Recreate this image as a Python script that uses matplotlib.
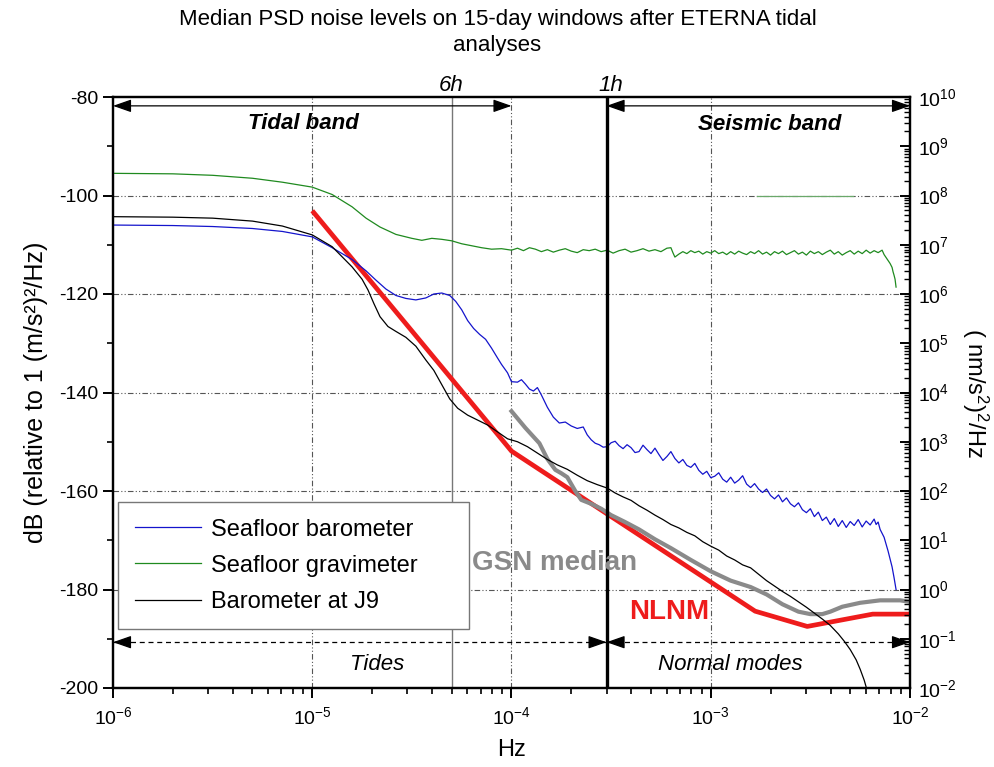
"""
Median PSD noise levels (seafloor barometer / gravimeter, J9 barometer)
compared with NLNM and GSN median.
"""

import numpy as np
import matplotlib
matplotlib.use("Agg")
import matplotlib.pyplot as plt
from matplotlib.ticker import LogLocator, MultipleLocator, FixedLocator, NullFormatter
import matplotlib.transforms as mtrans

plt.rcParams["font.family"] = ["Liberation Sans", "DejaVu Sans"]
plt.rcParams["mathtext.fontset"] = "custom"
plt.rcParams["mathtext.rm"] = "Liberation Sans"
plt.rcParams["mathtext.it"] = "Liberation Sans:italic"
plt.rcParams["mathtext.bf"] = "Liberation Sans:bold"
plt.rcParams["axes.unicode_minus"] = False

# ---- data (log10 frequency in Hz, level in dB) ----
baro_logf = [-6.0, -5.7, -5.5, -5.3, -5.15, -5.0, -4.9, -4.8, -4.73, -4.68, -4.63, -4.58,
             -4.53, -4.48, -4.43, -4.39, -4.35, -4.31, -4.28, -4.25, -4.22, -4.19, -4.16,
             -4.13, -4.10, -4.07, -4.05, -4.02, -4.00, -3.97, -3.95, -3.93, -3.91, -3.89,
             -3.87, -3.85, -3.82, -3.79, -3.76, -3.73, -3.70, -3.67, -3.64, -3.62, -3.60,
             -3.58, -3.56, -3.54, -3.52, -3.50, -3.48, -3.46, -3.44, -3.42, -3.40, -3.38,
             -3.36, -3.34, -3.32, -3.30, -3.28, -3.26, -3.24, -3.22, -3.20, -3.18, -3.16,
             -3.14, -3.12, -3.10, -3.08, -3.06, -3.04, -3.02, -3.00, -2.98, -2.96, -2.94,
             -2.92, -2.90, -2.88, -2.86, -2.84, -2.82, -2.80, -2.78, -2.76, -2.74, -2.72,
             -2.70, -2.68, -2.66, -2.64, -2.62, -2.60, -2.58, -2.56, -2.54, -2.52, -2.50,
             -2.48, -2.46, -2.44, -2.42, -2.40, -2.38, -2.36, -2.34, -2.32, -2.30, -2.28,
             -2.26, -2.24, -2.22, -2.20, -2.18, -2.17, -2.16, -2.15, -2.14, -2.13, -2.12,
             -2.11, -2.10, -2.09, -2.08, -2.07]
baro_db = [-106.0, -106.1, -106.3, -106.7, -107.3, -108.4, -110.6, -113.0, -115.3, -117.2,
           -119.0, -120.3, -120.9, -121.2, -120.8, -120.0, -119.8, -120.3, -121.5, -123.2,
           -125.4, -127.0, -128.2, -129.2, -131.0, -133.0, -134.3, -136.0, -137.8, -137.9,
           -137.4, -138.3, -139.3, -139.7, -139.0, -140.5, -143.0, -145.0, -146.2, -146.0,
           -146.8, -147.3, -147.0, -148.6, -149.6, -150.3, -150.6, -151.1, -151.0, -150.2,
           -149.9, -150.8, -151.4, -150.6, -151.2, -152.2, -152.0, -150.7, -151.6, -152.4,
           -151.3, -152.6, -153.8, -153.0, -152.0, -153.4, -154.3, -153.6, -154.8, -155.2,
           -154.4, -155.8, -156.6, -156.0, -157.3, -157.0, -156.3, -157.6, -158.2, -157.2,
           -158.4, -157.8, -156.9, -158.6, -159.3, -158.5, -159.6, -160.3, -159.6, -160.9,
           -161.6, -160.8, -162.2, -161.4, -162.6, -163.2, -162.4, -163.8, -164.4, -163.6,
           -165.2, -164.3, -166.0, -165.3, -166.8, -165.6, -167.2, -166.0, -167.4, -166.2,
           -167.0, -165.8, -167.3, -166.1, -166.9, -165.7, -166.8, -166.3, -167.8, -168.6,
           -169.4, -170.8, -172.2, -173.8, -175.4, -177.6, -180.0]

grav_logf = [-6.0, -5.7, -5.5, -5.3, -5.15, -5.0, -4.9, -4.8, -4.73, -4.66, -4.58, -4.5,
             -4.45, -4.4, -4.35, -4.3, -4.25, -4.2, -4.15, -4.1, -4.05, -4.0, -3.97, -3.94,
             -3.91, -3.88, -3.85, -3.82, -3.79, -3.76, -3.73, -3.70, -3.67, -3.64, -3.61,
             -3.58, -3.55, -3.52, -3.49, -3.46, -3.43, -3.40, -3.37, -3.34, -3.31, -3.28,
             -3.25, -3.22, -3.20, -3.19, -3.18, -3.16, -3.14, -3.12, -3.10, -3.08, -3.06, -3.04,
             -3.02, -3.00, -2.98, -2.96, -2.94, -2.92, -2.90, -2.88, -2.86, -2.84, -2.82,
             -2.80, -2.78, -2.76, -2.74, -2.72, -2.70, -2.68, -2.66, -2.64, -2.62, -2.60,
             -2.58, -2.56, -2.54, -2.52, -2.50, -2.48, -2.46, -2.44, -2.42, -2.40, -2.38,
             -2.36, -2.34, -2.32, -2.30, -2.28, -2.26, -2.24, -2.22, -2.20, -2.18, -2.16,
             -2.14, -2.13, -2.12, -2.11, -2.10, -2.09, -2.085, -2.08, -2.075, -2.07]
grav_db = [-95.5, -95.6, -95.9, -96.5, -97.3, -98.3, -99.8, -102.3, -104.6, -106.4, -107.9,
           -108.7, -109.1, -108.7, -108.9, -109.2, -109.8, -110.2, -110.6, -110.9, -110.8,
           -111.1, -110.7, -111.2, -110.6, -110.9, -111.4, -111.0, -111.5, -111.1, -110.8,
           -111.3, -111.6, -111.0, -111.2, -110.9, -111.4, -111.1, -111.7, -111.2, -110.9,
           -111.5, -111.2, -110.8, -111.3, -111.0, -111.4, -110.7, -110.6, -111.6, -112.5,
           -111.9, -111.4, -111.8, -111.2, -111.6, -111.3, -111.9, -111.4, -111.7, -111.2,
           -111.8, -111.5, -112.0, -111.4, -111.9, -111.3, -111.7, -112.0, -111.4, -111.8,
           -111.2, -111.9, -111.5, -112.1, -111.4, -111.8, -111.3, -112.0, -111.6, -111.2,
           -111.9, -111.5, -112.1, -111.3, -111.8, -111.4, -112.0, -111.5, -111.1, -111.9,
           -111.4, -112.1, -111.6, -111.2, -111.9, -111.3, -111.8, -111.1, -111.7, -111.2,
           -111.6, -111.1, -112.0, -112.6, -113.2, -113.8, -114.6, -115.5, -116.2, -117.0,
           -118.6]

j9_logf = [-6.0, -5.7, -5.5, -5.3, -5.15, -5.0, -4.9, -4.8, -4.75, -4.72, -4.69, -4.66,
           -4.62, -4.58, -4.53, -4.48, -4.43, -4.39, -4.35, -4.31, -4.27, -4.22, -4.17,
           -4.12, -4.07, -4.02, -3.97, -3.92, -3.87, -3.82, -3.77, -3.72, -3.67, -3.62,
           -3.57, -3.52, -3.48, -3.44, -3.40, -3.36, -3.32, -3.28, -3.24, -3.20, -3.16,
           -3.12, -3.08, -3.04, -3.00, -2.96, -2.92, -2.88, -2.84, -2.80, -2.76, -2.72,
           -2.68, -2.64, -2.60, -2.56, -2.52, -2.48, -2.44, -2.40, -2.36, -2.33, -2.30,
           -2.27, -2.25, -2.23, -2.215]
j9_db = [-104.3, -104.4, -104.6, -105.2, -106.2, -108.0, -110.4, -114.5, -117.0, -119.2,
         -122.0, -124.6, -126.6, -127.6, -128.8, -130.6, -133.4, -135.5, -138.4, -141.3,
         -143.2, -144.6, -145.6, -146.6, -148.0, -149.4, -150.0, -151.0, -152.3, -153.6,
         -154.7, -155.6, -156.8, -157.9, -158.7, -159.4, -160.4, -161.2, -161.9, -163.0,
         -163.9, -164.9, -165.8, -166.8, -167.5, -168.4, -169.1, -170.3, -171.2, -172.0,
         -173.2, -174.0, -175.0, -175.6, -176.9, -178.2, -179.3, -180.4, -181.4, -182.5,
         -183.6, -184.8, -186.0, -187.3, -189.0, -190.5, -192.2, -194.3, -196.2, -198.4,
         -200.5]

nlnm_f = [1e-5, 1e-4, 1.67e-3, 3.05e-3, 6.5e-3, 1e-2]
nlnm_db = [-103.1, -151.9, -184.4, -187.5, -185.0, -185.0]

gsn_logf = [-4.0, -3.93, -3.86, -3.82, -3.78, -3.75, -3.72, -3.68, -3.65, -3.60, -3.55,
            -3.50, -3.43, -3.36, -3.28, -3.20, -3.10, -3.00, -2.90, -2.80, -2.72, -2.64,
            -2.56, -2.50, -2.44, -2.40, -2.34, -2.25, -2.15, -2.05, -2.0]
gsn_db = [-143.8, -147.2, -150.3, -153.5, -155.7, -156.4, -157.2, -160.0, -161.8, -162.6,
          -163.6, -164.9, -166.3, -167.8, -169.8, -171.6, -174.0, -176.3, -178.2, -179.5,
          -181.0, -183.0, -184.5, -185.0, -185.0, -184.5, -183.5, -182.7, -182.2, -182.2,
          -182.5]

C_BLUE = "#1414cc"
C_GREEN = "#1f8a1f"
C_RED = "#ee1c1c"
C_GRAY = "#8a8a8a"

F_6H = 5e-5
F_1H = 3e-4

fig = plt.figure(figsize=(9.95, 7.67), dpi=100)
ax = fig.add_axes([113 / 995, 1 - 688 / 767, 797 / 995, 591 / 767])

grid_ls = (0, (5, 2, 1, 2, 1, 2))
for gx in [1e-5, 1e-4, 1e-3]:
    ax.axvline(gx, color="#555555", lw=0.8, ls=grid_ls, zorder=1)
for gy in [-100, -120, -140, -160, -180]:
    ax.axhline(gy, color="#555555", lw=0.8, ls=grid_ls, zorder=1)

ax.axvline(F_6H, color="#777777", lw=1.0, zorder=2)
ax.axvline(F_1H, color="black", lw=2.4, zorder=5)

ax.plot(nlnm_f, nlnm_db, color=C_RED, lw=3.4, zorder=3, solid_capstyle="butt")
ax.plot(10 ** np.array(gsn_logf), gsn_db, color=C_GRAY, lw=3.0, zorder=3)

l1, = ax.plot(10 ** np.array(baro_logf), baro_db, color=C_BLUE, lw=0.9, zorder=4,
              label="Seafloor barometer")
l2, = ax.plot(10 ** np.array(grav_logf), grav_db, color=C_GREEN, lw=0.9, zorder=4,
              label="Seafloor gravimeter")
l3, = ax.plot(10 ** np.array(j9_logf), j9_db, color="black", lw=0.9, zorder=4,
              label="Barometer at J9")
ax.plot([1.7e-3, 5.2e-3], [-100, -100], color="#6aa86a", lw=0.9, zorder=4)

ax.set_xscale("log")
ax.set_xlim(1e-6, 1e-2)
ax.set_ylim(-200, -80)

# band arrows
head = dict(arrowstyle="<|-|>,head_length=0.8,head_width=0.28", color="black",
            lw=0.9, mutation_scale=14, shrinkA=0, shrinkB=0)
y_top = -81.8
ax.annotate("", xy=(1e-4, y_top), xytext=(1e-6, y_top), arrowprops=head, zorder=6)
ax.annotate("", xy=(1e-2, y_top), xytext=(F_1H, y_top), arrowprops=head, zorder=6)

y_bot = -190.7
one_head = dict(arrowstyle="-|>,head_length=0.8,head_width=0.28", color="black",
                lw=0.9, mutation_scale=14, shrinkA=0, shrinkB=0)
for a, b in [(1e-6, F_1H), (F_1H, 1e-2)]:
    ax.plot([a, b], [y_bot, y_bot], color="black", lw=0.9, ls=(0, (4, 3)), zorder=6)
    ax.annotate("", xy=(a, y_bot), xytext=(a * 1.12, y_bot), arrowprops=one_head, zorder=6)
    ax.annotate("", xy=(b, y_bot), xytext=(b / 1.12, y_bot), arrowprops=one_head, zorder=6)

ax.text(9.0e-6, -85.3, "Tidal band", fontsize=16, fontweight="bold", fontstyle="italic",
        ha="center", va="center")
ax.text(1.98e-3, -85.6, "Seismic band", fontsize=16, fontweight="bold", fontstyle="italic",
        ha="center", va="center")
ax.text(2.11e-5, -195.3, "Tides", fontsize=16, fontstyle="italic", ha="center", va="center")
ax.text(1.25e-3, -195.3, "Normal modes", fontsize=16, fontstyle="italic",
        ha="center", va="center")
ax.text(6.3e-5, -174.6, "GSN median", fontsize=20, fontweight="bold", color=C_GRAY,
        ha="left", va="center", zorder=7)
ax.text(3.9e-4, -184.6, "NLNM", fontsize=20, fontweight="bold", color=C_RED,
        ha="left", va="center", zorder=7)

trans = mtrans.blended_transform_factory(ax.transData, ax.transAxes)
ax.text(F_6H, 1.02, "6h", fontsize=16, fontstyle="italic", ha="center", va="center",
        transform=trans)
ax.text(F_1H * 1.05, 1.02, "1h", fontsize=16, fontstyle="italic", ha="center", va="center",
        transform=trans)

# axes styling
for s in ax.spines.values():
    s.set_linewidth(1.6)
ax.yaxis.set_major_locator(MultipleLocator(20))
ax.yaxis.set_minor_locator(MultipleLocator(10))
ax.xaxis.set_major_locator(LogLocator(base=10, numticks=10))
ax.xaxis.set_minor_locator(LogLocator(base=10, subs=np.arange(2, 10), numticks=50))
ax.xaxis.set_minor_formatter(NullFormatter())
ax.tick_params(which="major", direction="out", length=7, width=1.4, labelsize=14,
               top=False, right=False)
ax.tick_params(which="minor", direction="out", length=4, width=1.2, top=False, right=False)
ax.tick_params(axis="x", which="major", pad=6)

ax.set_xlabel("Hz", fontsize=17, labelpad=8)
ax.set_ylabel("dB (relative to 1 (m/s²)²/Hz)", fontsize=18, labelpad=8)

ax2 = ax.twinx()
ax2.set_yscale("log")
ax2.set_ylim(1e-2, 1e10)
ax2.yaxis.set_major_locator(FixedLocator([10.0 ** k for k in range(-2, 11)]))
ax2.yaxis.set_minor_locator(LogLocator(base=10, subs=np.arange(2, 10), numticks=100))
ax2.yaxis.set_minor_formatter(NullFormatter())
ax2.tick_params(which="major", direction="in", length=7, width=1.4, labelsize=14, pad=6)
ax2.tick_params(which="minor", direction="in", length=4, width=1.0)
for s in ax2.spines.values():
    s.set_linewidth(1.6)
ax2.set_ylabel("( nm/s$^2$)$^2$/Hz", fontsize=17, rotation=270, labelpad=24)

leg = ax.legend(handles=[l1, l2, l3], loc="upper left",
                bbox_to_anchor=(0.0063, 0.0, 0.4404, 0.3147), mode="expand",
                fontsize=17, handlelength=2.8, handletextpad=0.45, borderpad=0.7,
                labelspacing=0.6, borderaxespad=0, fancybox=False, framealpha=1,
                edgecolor="#777777")
leg.get_frame().set_linewidth(1.0)
leg.set_zorder(8)

fig.text(0.5, 1 - 9 / 767, "Median PSD noise levels on 15-day windows after ETERNA tidal\nanalyses",
         ha="center", va="top", fontsize=16, linespacing=1.3)

fig.savefig("out.png", dpi=100)
